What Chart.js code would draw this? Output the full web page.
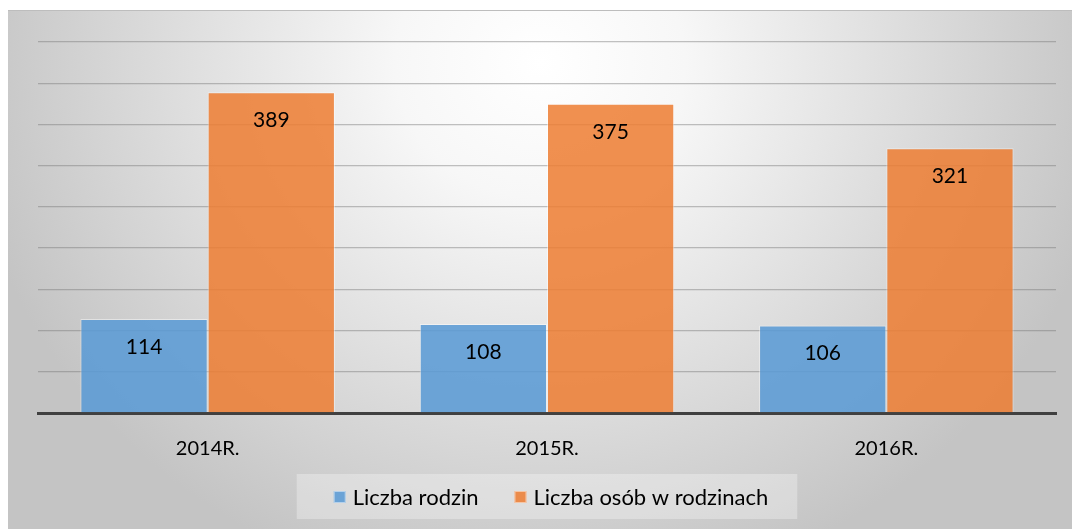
<!DOCTYPE html>
<html>
<head>
<meta charset="utf-8">
<script src="https://cdn.jsdelivr.net/npm/chart.js@4.4.0/dist/chart.umd.min.js"></script>
<style>
  html, body { margin: 0; padding: 0; background: #fff; }
  #wrap {
    position: absolute; left: 8px; top: 10px; width: 1064px; height: 519px;
    border-top: 1px solid #bdbdbd;
    background: radial-gradient(ellipse 580px 540px at 50% 10%, #ffffff 0%, #f7f7f7 25%, #c4c4c4 100%);
  }
</style>
</head>
<body>
<div id="wrap"><canvas id="chart" width="1064" height="519"></canvas></div>
<script>
var years = ["2014R.", "2015R.", "2016R."];
var rodziny = [114, 108, 106];
var osoby = [389, 375, 321];
var yTicks = [0, 50, 100, 150, 200, 250, 300, 350, 400, 450];

var fontName = "Lato, 'Noto Sans', sans-serif";

// labels inside the bars + legend drawn below the axis
var extras = {
  id: 'extras',
  afterDraw: function(chart) {
    var c = chart.ctx;
    var sets = chart.data.datasets;
    c.save();
    c.font = "22px " + fontName;
    var widths = sets.map(function(ds) { return 12 + 7 + c.measureText(ds.label).width; });
    var gap = 36;
    var total = widths.reduce(function(a, b) { return a + b; }, 0) + gap * (sets.length - 1);
    var cx = 543, cy = 486;
    var x = cx - total / 2;
    c.fillStyle = 'rgba(255,255,255,0.3)';
    c.fillRect(x - 37, cy - 23, total + 66, 45);
    c.textBaseline = 'middle';
    c.textAlign = 'left';
    sets.forEach(function(ds, i) {
      c.fillStyle = ds.backgroundColor;
      c.fillRect(x, cy - 6, 12, 12);
      c.strokeStyle = 'rgba(255,255,255,0.5)';
      c.lineWidth = 1;
      c.strokeRect(x + 0.5, cy - 5.5, 11, 11);
      c.fillStyle = '#000';
      c.fillText(ds.label, x + 19, cy + 1);
      x += widths[i] + gap;
    });
    c.restore();
  },
  afterDatasetsDraw: function(chart) {
    var c = chart.ctx;
    c.save();
    c.font = "21px " + fontName;
    c.fillStyle = '#000';
    c.textAlign = 'center';
    c.textBaseline = 'middle';
    chart.data.datasets.forEach(function(ds, i) {
      chart.getDatasetMeta(i).data.forEach(function(bar, j) {
        c.fillText(ds.data[j], bar.x, bar.y + 28);
      });
    });
    c.restore();
  }
};

new Chart(document.getElementById('chart'), {
  type: 'bar',
  data: {
    labels: years,
    datasets: [{
      label: 'Liczba rodzin',
      data: rodziny,
      backgroundColor: 'rgba(91,155,213,0.88)',
      borderColor: 'rgba(255,255,255,0.45)',
      borderWidth: 1,
      categoryPercentage: 0.75,
      barPercentage: 1
    }, {
      label: 'Liczba osób w rodzinach',
      data: osoby,
      backgroundColor: 'rgba(237,125,49,0.85)',
      borderColor: 'rgba(255,255,255,0.45)',
      borderWidth: 1,
      categoryPercentage: 0.75,
      barPercentage: 1
    }]
  },
  options: {
    responsive: false,
    animation: false,
    layout: { padding: { top: 31, left: 0, right: 16, bottom: 56 } },
    plugins: {
      tooltip: { enabled: false },
      legend: { display: false }
    },
    scales: {
      x: {
        grid: { display: false },
        border: { color: '#404040', width: 3 },
        ticks: { color: '#000', padding: 16, font: { family: fontName, size: 20 } },
        afterFit: function(s) { s.height = 61; }
      },
      y: {
        min: 0, max: 450,
        afterBuildTicks: function(s) { s.ticks = yTicks.map(function(v) { return { value: v }; }); },
        ticks: { display: false },
        border: { display: false },
        grid: { color: 'rgba(120,120,120,0.45)', lineWidth: 1.3, drawTicks: false },
        afterFit: function(s) { s.width = 30; }
      }
    }
  },
  plugins: [extras]
});
</script>
</body>
</html>
